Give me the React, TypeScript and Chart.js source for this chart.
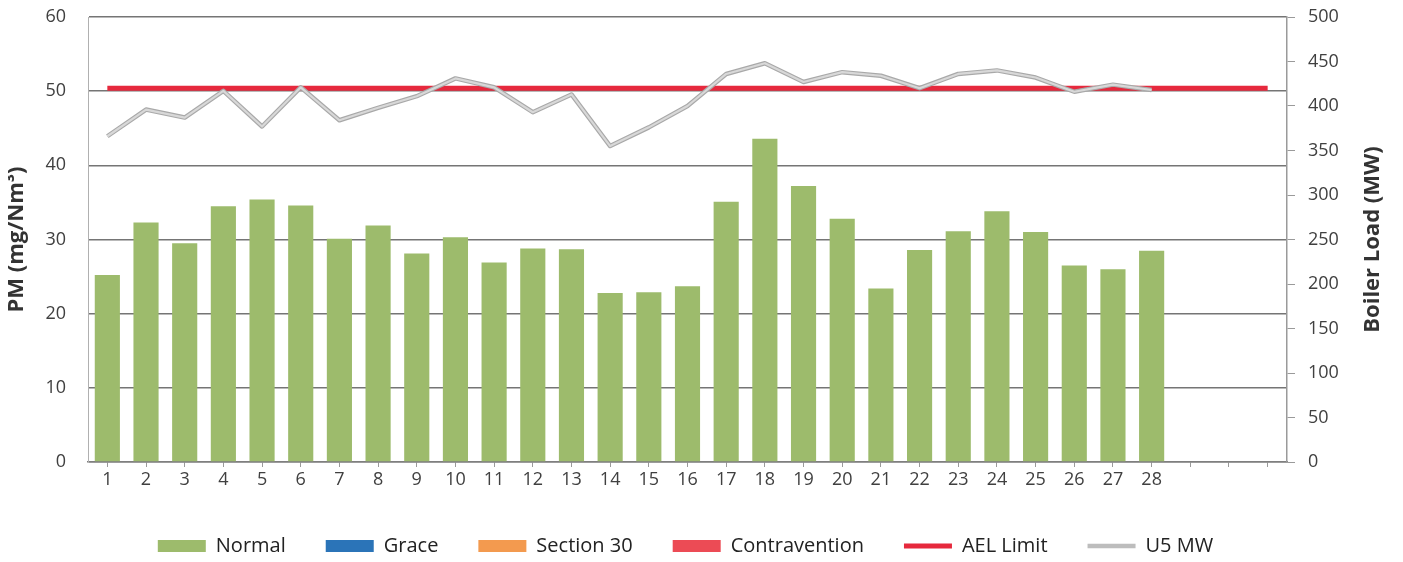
import React, { useEffect, useRef } from "react";
import { Chart, registerables } from "chart.js";

Chart.register(...registerables);

const categories = ["1","2","3","4","5","6","7","8","9","10","11","12","13","14","15","16","17","18","19","20","21","22","23","24","25","26","27","28","","",""];
const normal = [25.2, 32.3, 29.5, 34.5, 35.4, 34.6, 30.1, 31.9, 28.1, 30.3, 26.9, 28.8, 28.7, 22.8, 22.9, 23.7, 35.1, 43.6, 37.2, 32.8, 23.4, 28.6, 31.1, 33.8, 31.0, 26.5, 26.0, 28.5];
const grace = [0,0,0,0,0,0,0,0,0,0,0,0,0,0,0,0,0,0,0,0,0,0,0,0,0,0,0,0];
const section30 = [0,0,0,0,0,0,0,0,0,0,0,0,0,0,0,0,0,0,0,0,0,0,0,0,0,0,0,0];
const contravention = [0,0,0,0,0,0,0,0,0,0,0,0,0,0,0,0,0,0,0,0,0,0,0,0,0,0,0,0];
const aelLimit = [50.4,50.4,50.4,50.4,50.4,50.4,50.4,50.4,50.4,50.4,50.4,50.4,50.4,50.4,50.4,50.4,50.4,50.4,50.4,50.4,50.4,50.4,50.4,50.4,50.4,50.4,50.4,50.4,50.4,50.4,50.4];
const u5MW = [366, 396, 387, 417, 377, 421, 384, 398, 411, 431, 421, 393, 413, 355, 376, 400, 436, 448, 427, 438, 434, 420, 436, 440, 432, 416, 424, 418];

const leftTitle = "PM (mg/Nm³)";
const rightTitle = "Boiler Load (MW)";

const FONT = "'Open Sans', sans-serif";
const TXT = "#404040";

const rightTitlePlugin = {
  id: "rightTitle",
  afterDraw(chart: any) {
    const { ctx, chartArea } = chart;
    ctx.save();
    ctx.translate(chartArea.right + 86, (chartArea.top + chartArea.bottom) / 2);
    ctx.rotate(-Math.PI / 2);
    ctx.font = `bold 22px ${FONT}`;
    ctx.fillStyle = "#333";
    ctx.textAlign = "center";
    ctx.textBaseline = "middle";
    ctx.fillText(rightTitle, 0, 0);
    ctx.restore();
  },
};

// inner highlight stroke for the grey load line (double-line look)
const innerLinePlugin = {
  id: "innerLine",
  afterDatasetDraw(chart: any, args: any) {
    const ds = chart.data.datasets[args.index];
    if (ds.label !== "U5 MW") return;
    const pts = args.meta.data;
    if (!pts || pts.length < 2) return;
    const { ctx } = chart;
    ctx.save();
    ctx.beginPath();
    pts.forEach((p: any, i: number) => (i === 0 ? ctx.moveTo(p.x, p.y) : ctx.lineTo(p.x, p.y)));
    ctx.lineJoin = "round";
    ctx.lineWidth = 2.2;
    ctx.strokeStyle = "#d8d8d8";
    ctx.stroke();
    ctx.restore();
  },
};

export default function App() {
  const ref = useRef<HTMLCanvasElement | null>(null);
  useEffect(() => {
    if (!ref.current) return;
    const chart = new Chart(ref.current, {
      type: "bar",
      data: {
        labels: categories,
        datasets: [
          { type: "bar", label: "Normal", data: normal, backgroundColor: "#9dbb6c", stack: "pm", order: 2, yAxisID: "y" },
          { type: "bar", label: "Grace", data: grace, backgroundColor: "#2b74b8", stack: "pm", order: 3, yAxisID: "y" },
          { type: "bar", label: "Section 30", data: section30, backgroundColor: "#f39a4f", stack: "pm", order: 4, yAxisID: "y" },
          { type: "bar", label: "Contravention", data: contravention, backgroundColor: "#ec4b55", stack: "pm", order: 5, yAxisID: "y" },
          { type: "line", label: "AEL Limit", data: aelLimit, borderColor: "#e6293d", backgroundColor: "#e6293d", borderWidth: 5, pointRadius: 0, stack: "ael", order: 1, yAxisID: "y" },
          { type: "line", label: "U5 MW", data: u5MW, borderColor: "#a9a9a9", backgroundColor: "#bdbdbd", borderWidth: 4.5, pointRadius: 0, borderJoinStyle: "round", order: 0, yAxisID: "y1" },
        ] as any,
      },
      options: {
        animation: false,
        responsive: false,
        maintainAspectRatio: false,
        datasets: { bar: { categoryPercentage: 0.65, barPercentage: 1 } },
        layout: { padding: { top: 9, left: -2, right: 30, bottom: -12 } },
        plugins: {
          tooltip: { enabled: false },
          legend: {
            position: "bottom",
            labels: {
              font: { family: FONT, size: 20 },
              color: "#222",
              usePointStyle: true,
              pointStyleWidth: 48,
              boxHeight: 12,
              padding: 40,
              sort: (a: any, b: any) => a.datasetIndex - b.datasetIndex,
              generateLabels: (ch: any) => {
                const base = Chart.defaults.plugins.legend.labels.generateLabels(ch);
                return base.map((it: any) => {
                  const ds = ch.data.datasets[it.datasetIndex];
                  if (ds.type === "line") {
                    return { ...it, pointStyle: "line", lineWidth: ds.borderWidth, strokeStyle: ds.label === "U5 MW" ? "#bdbdbd" : ds.borderColor };
                  }
                  return { ...it, pointStyle: "rect", lineWidth: 0 };
                });
              },
            },
          },
        },
        scales: {
          x: {
            stacked: true,
            grid: { display: true, drawOnChartArea: false, offset: false, tickLength: 5, color: "#9a9a9a" },
            border: { color: "#7f7f7f", width: 1.5 },
            ticks: { font: { family: FONT, size: 18 }, color: TXT, autoSkip: false, maxRotation: 0, padding: 2 },
            afterFit: (s: any) => { s.height = 34; },
          },
          y: {
            stacked: true,
            position: "left",
            min: 0,
            max: 60,
            ticks: { stepSize: 10, font: { family: FONT, size: 18 }, color: TXT, padding: 22 },
            grid: { color: "#757575", lineWidth: 1.5, drawTicks: false },
            border: { color: "#b0b0b0", width: 1 },
            title: { display: true, text: leftTitle, font: { family: FONT, size: 22, weight: "bold", lineHeight: 1 }, color: "#333", padding: { top: 0, bottom: 0 } },
            afterFit: (s: any) => { s.width = 82; s.paddingTop = 0; s.paddingBottom = 0; },
          },
          y1: {
            position: "right",
            min: 0,
            max: 500,
            ticks: { stepSize: 50, font: { family: FONT, size: 18 }, color: TXT, padding: 13 },
            grid: { drawOnChartArea: false, tickLength: 8, color: "#9a9a9a" },
            border: { color: "#9a9a9a", width: 1.5 },
            afterFit: (s: any) => { s.width = 78; s.paddingTop = 0; s.paddingBottom = 0; },
          },
        },
      } as any,
      plugins: [innerLinePlugin, rightTitlePlugin],
    });
    return () => chart.destroy();
  }, []);
  return (
    <div style={{ width: 1387, height: 546 }}>
      <canvas ref={ref} width={1387} height={546} style={{ display: "block" }} />
    </div>
  );
}
